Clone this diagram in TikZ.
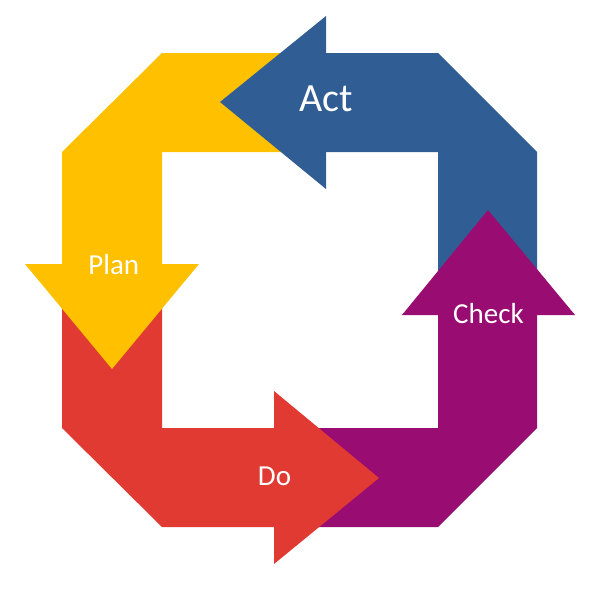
\documentclass[tikz,border=0pt]{standalone}
\usepackage{fontspec}
\setmainfont{Carlito}
\definecolor{actblue}{HTML}{305D94}
\definecolor{planyellow}{HTML}{FFC000}
\definecolor{dored}{HTML}{E03A33}
\definecolor{checkpurple}{HTML}{990C72}
\begin{document}
\begin{tikzpicture}[x=1pt,y=-1pt,
  lbl/.style={text=white,anchor=base,inner sep=0pt,font=\fontsize{29}{29}\selectfont},
  biglbl/.style={lbl,font=\fontsize{40}{40}\selectfont}]
\useasboundingbox (0,0) rectangle (600,600);
% bodies
\fill[actblue] (438,295) -- (438,152) -- (326,152) -- (326,53) -- (438,53) -- (537,152) -- (537,295) -- cycle;
\fill[planyellow] (300,53) -- (162,53) -- (62,152) -- (62,264) -- (162,264) -- (162,152) -- (300,152) -- cycle;
\fill[dored] (62,285) -- (162,285) -- (162,428) -- (274,428) -- (274,527) -- (162,527) -- (62,428) -- cycle;
\fill[checkpurple] (295,428) -- (438,428) -- (438,315) -- (537,315) -- (537,428) -- (438,527) -- (295,527) -- cycle;
% heads
\fill[actblue] (326,16) -- (220,102) -- (326,189) -- cycle;
\fill[planyellow] (25,264) -- (199,264) -- (112,369) -- cycle;
\fill[dored] (274,391) -- (379,478) -- (274,564) -- cycle;
\fill[checkpurple] (402,315) -- (488,210) -- (575,315) -- cycle;
% labels
\node[biglbl] (act) at (326,111.7) {Act};
\node[lbl] (plan) at (113.8,274) {Plan};
\node[lbl] (do) at (274.5,485.5) {Do};
\node[lbl] (check) at (488.5,323.3) {Check};
\end{tikzpicture}
\end{document}
